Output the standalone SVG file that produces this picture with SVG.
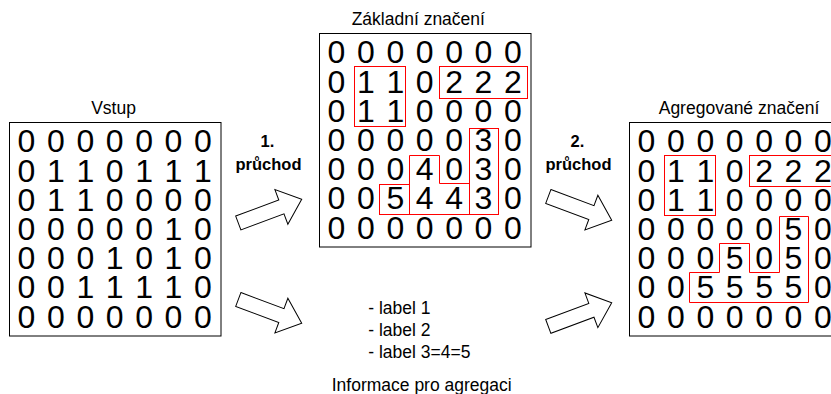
<svg xmlns="http://www.w3.org/2000/svg" width="831" height="394" viewBox="0 0 831 394">
<style>
.box{fill:#fff;stroke:#000;stroke-width:1}
.d{font-family:"Liberation Sans",Arial,sans-serif;font-size:32px;text-anchor:middle;fill:#000}
.t{font-family:"Liberation Sans",Arial,sans-serif;font-size:17.5px;fill:#000}
.c{text-anchor:middle}
.b{font-family:"Liberation Sans",Arial,sans-serif;font-size:16.5px;font-weight:bold;text-anchor:middle;fill:#000}
.r{fill:none;stroke:#f00;stroke-width:1}
.arr{fill:#fff;stroke:#000;stroke-width:1}
</style>
<defs>
<polygon id="arrow" points="0,-7.4 46,-7.4 46,-18.5 67.7,0 46,18.5 46,7.4 0,7.4"/>
</defs>
<rect width="831" height="394" fill="#fff"/>

<g id="input">
<text class="t c" x="113.5" y="114">Vstup</text>
<rect class="box" x="9.5" y="122.5" width="211.5" height="213.5"/>
<text class="d" x="26.5 55.9 85.3 114.7 144.1 173.5 202.9" y="152.3">0000000</text>
<text class="d" x="26.5 55.9 85.3 114.7 144.1 173.5 202.9" y="181.5">0110111</text>
<text class="d" x="26.5 55.9 85.3 114.7 144.1 173.5 202.9" y="210.7">0110000</text>
<text class="d" x="26.5 55.9 85.3 114.7 144.1 173.5 202.9" y="239.9">0000010</text>
<text class="d" x="26.5 55.9 85.3 114.7 144.1 173.5 202.9" y="269.1">0001010</text>
<text class="d" x="26.5 55.9 85.3 114.7 144.1 173.5 202.9" y="298.3">0011110</text>
<text class="d" x="26.5 55.9 85.3 114.7 144.1 173.5 202.9" y="327.5">0000000</text>
</g>

<g id="basic">
<text class="t c" x="418.3" y="25">Základní značení</text>
<rect class="box" x="319.5" y="33.5" width="211.5" height="213.5"/>
<text class="d" x="336.5 365.9 395.3 424.7 454.1 483.5 512.9" y="63.3">0000000</text>
<text class="d" x="336.5 365.9 395.3 424.7 454.1 483.5 512.9" y="92.5">0110222</text>
<text class="d" x="336.5 365.9 395.3 424.7 454.1 483.5 512.9" y="121.7">0110000</text>
<text class="d" x="336.5 365.9 395.3 424.7 454.1 483.5 512.9" y="150.9">0000030</text>
<text class="d" x="336.5 365.9 395.3 424.7 454.1 483.5 512.9" y="180.1">0004030</text>
<text class="d" x="336.5 365.9 395.3 424.7 454.1 483.5 512.9" y="209.3">0054430</text>
<text class="d" x="336.5 365.9 395.3 424.7 454.1 483.5 512.9" y="238.5">0000000</text>
<rect class="r" x="354.5" y="66.5" width="51" height="60"/>
<rect class="r" x="439.5" y="66.5" width="88" height="32"/>
<rect class="r" x="469.5" y="128.5" width="29" height="86"/>
<polygon class="r" points="409.5,155.5 439.5,155.5 439.5,183.5 469.5,183.5 469.5,214.5 409.5,214.5"/>
<rect class="r" x="379.5" y="184.5" width="30" height="30"/>
</g>

<g id="aggregated">
<text class="t c" x="739" y="114">Agregované značení</text>
<rect class="box" x="629.5" y="122.5" width="211.5" height="213.5"/>
<text class="d" x="646.5 675.9 705.3 734.7 764.1 793.5 822.9" y="152.3">0000000</text>
<text class="d" x="646.5 675.9 705.3 734.7 764.1 793.5 822.9" y="181.5">0110222</text>
<text class="d" x="646.5 675.9 705.3 734.7 764.1 793.5 822.9" y="210.7">0110000</text>
<text class="d" x="646.5 675.9 705.3 734.7 764.1 793.5 822.9" y="239.9">0000050</text>
<text class="d" x="646.5 675.9 705.3 734.7 764.1 793.5 822.9" y="269.1">0005050</text>
<text class="d" x="646.5 675.9 705.3 734.7 764.1 793.5 822.9" y="298.3">0055550</text>
<text class="d" x="646.5 675.9 705.3 734.7 764.1 793.5 822.9" y="327.5">0000000</text>
<rect class="r" x="664.5" y="155.5" width="51" height="60"/>
<rect class="r" x="749.5" y="155.5" width="100" height="31"/>
<polygon class="r" points="779.5,216.5 808.5,216.5 808.5,302.5 689.5,302.5 689.5,272.5 719.5,272.5 719.5,243.5 749.5,243.5 749.5,272.5 779.5,272.5"/>
</g>

<g id="connectors">
<use href="#arrow" class="arr" transform="translate(238.3,223) rotate(-20.5)"/>
<use href="#arrow" class="arr" transform="translate(238.3,299.5) rotate(20.5)"/>
<use href="#arrow" class="arr" transform="translate(548.3,196.5) rotate(20.5)"/>
<use href="#arrow" class="arr" transform="translate(548.3,326.4) rotate(-20.5)"/>
</g>

<g id="pass1">
<text class="b" x="267.5" y="147">1.</text>
<text class="b" x="268.5" y="170">průchod</text>
</g>
<g id="pass2">
<text class="b" x="577.5" y="147">2.</text>
<text class="b" x="578.5" y="170">průchod</text>
</g>

<g id="info">
<text class="t" x="368.3" y="314">- label 1</text>
<text class="t" x="368.3" y="336.3">- label 2</text>
<text class="t" x="368.3" y="358.3">- label 3=4=5</text>
<text class="t c" x="421.7" y="391">Informace pro agregaci</text>
</g>
</svg>
